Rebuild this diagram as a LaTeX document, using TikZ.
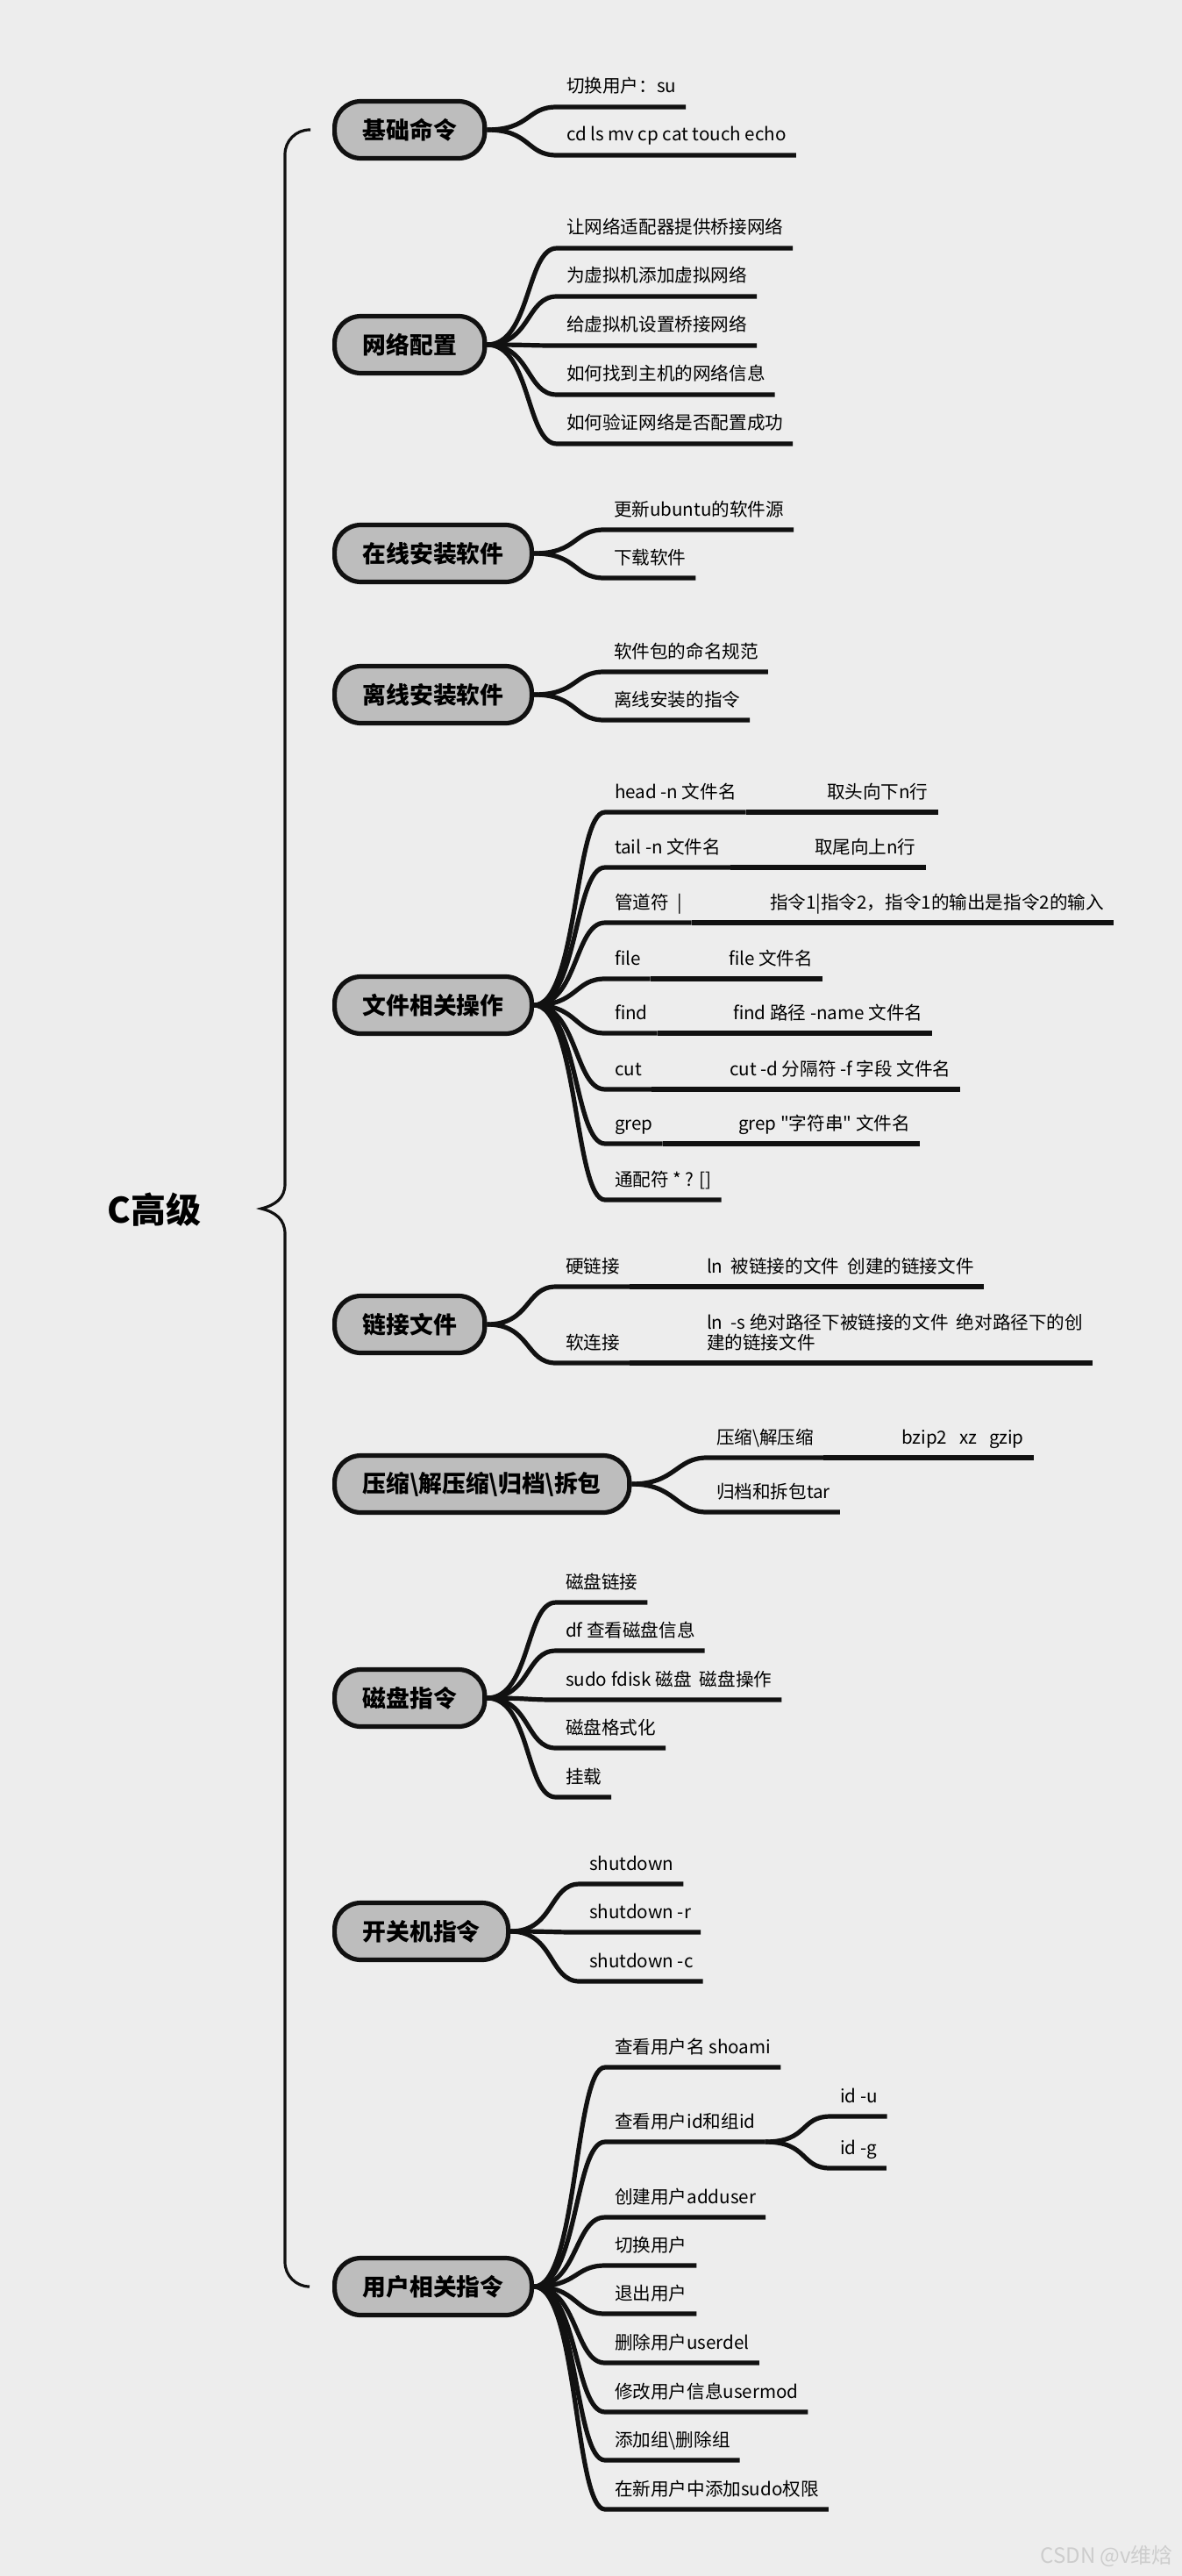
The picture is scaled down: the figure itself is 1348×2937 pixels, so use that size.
\documentclass[tikz,border=0pt]{standalone}
\usepackage{fontspec}
\setmainfont{Noto Sans CJK SC}
\usetikzlibrary{calc}
\definecolor{paper}{HTML}{EDEDED}
\definecolor{boxgray}{HTML}{BDBDBD}
\definecolor{inkblack}{HTML}{111111}
\definecolor{markgray}{HTML}{CDCDCD}
\newcommand{\leaffont}{\fontsize{10.3pt}{11.5pt}\selectfont}
\newcommand{\boxfont}{\fontsize{13.4pt}{15pt}\selectfont\bfseries}
\newcommand{\rootfont}{\fontsize{20pt}{23pt}\selectfont\bfseries}
\tikzset{
  topic/.style={draw=inkblack, line width=2.6pt, fill=boxgray, rounded corners=15pt,
    minimum height=32.5pt, inner xsep=16pt, inner ysep=0pt, anchor=west, font=\boxfont},
  leaf/.style={anchor=south west, inner xsep=5.5pt, inner ysep=6pt, outer sep=0pt,
    text depth=2pt, font=\leaffont, align=left},
  limb/.style={to path={.. controls +(50,0) and +(-35,0) .. (\tikztotarget)}},
  twig/.style={draw=inkblack, line width=2.6pt, line join=round},
  trunk/.style={draw=inkblack, line width=1.6pt},
}

\begin{document}
\begin{tikzpicture}[x=0.5pt,y=-0.5pt]
    % fondo
    \fill[paper] (0,0) rectangle (1348,2937);
    \useasboundingbox (0,0) rectangle (1348,2937);

    % radice e graffa
    \node[font=\rootfont] (root) at (176,1379) {C高级};
    \coordinate (tip) at (298,1378);

    % rami principali
    \node[topic] (g1) at (379,148) {基础命令};
    \node[topic] (g2) at (379,393) {网络配置};
    \node[topic] (g3) at (379,631) {在线安装软件};
    \node[topic] (g4) at (379,792) {离线安装软件};
    \node[topic] (g5) at (379,1146) {文件相关操作};
    \node[topic] (g6) at (379,1510) {链接文件};
    \node[topic] (g7) at (379,1692) {压缩\textbackslash{}解压缩\textbackslash{}归档\textbackslash{}拆包};
    \node[topic] (g8) at (379,1936) {磁盘指令};
    \node[topic] (g9) at (379,2202) {开关机指令};
    \node[topic] (g10) at (379,2607) {用户相关指令};

    \draw[trunk, rounded corners=14pt] ($(g1.west)+(-25,0)$) -| (325,1350);
    \draw[trunk] (325,1350)
        .. controls (325,1366) and (314,1374) .. (tip)
        .. controls (314,1382) and (325,1390) .. (325,1407);
    \draw[trunk, rounded corners=14pt] (325,1407) |- ($(g10.west)+(-26,0)$);

    % foglie: base
    \node[leaf] (b1) at (635,122) {切换用户：su};
    \node[leaf] (b2) at (635,177) {cd ls mv cp cat touch echo};

    % foglie: rete
    \node[leaf] (n1) at (635,283) {让网络适配器提供桥接网络};
    \node[leaf] (n2) at (635,338) {为虚拟机添加虚拟网络};
    \node[leaf] (n3) at (635,394) {给虚拟机设置桥接网络};
    \node[leaf] (n4) at (635,450) {如何找到主机的网络信息};
    \node[leaf] (n5) at (635,506) {如何验证网络是否配置成功};

    % foglie: installazione
    \node[leaf] (on1) at (689,604) {更新ubuntu的软件源};
    \node[leaf] (on2) at (689,659) {下载软件};
    \node[leaf] (off1) at (689,766) {软件包的命名规范};
    \node[leaf] (off2) at (689,821) {离线安装的指令};

    % foglie: file
    \node[leaf] (f1) at (690,926) {head -n 文件名};
    \node[leaf] (f2) at (690,989) {tail -n 文件名};
    \node[leaf] (f3) at (690,1052) {管道符~~|};
    \node[leaf] (f4) at (690,1116) {file};
    \node[leaf] (f5) at (690,1178) {find};
    \node[leaf] (f6) at (690,1242) {cut};
    \node[leaf] (f7) at (690,1304) {grep};
    \node[leaf] (f8) at (690,1368) {通配符 * ? []};
    \node[leaf] (fc1) at (932,926) {取头向下n行};
    \node[leaf] (fc2) at (918,989) {取尾向上n行};
    \node[leaf] (fc3) at (867,1052) {指令1|指令2，指令1的输出是指令2的输入};
    \node[leaf] (fc4) at (820,1116) {file 文件名};
    \node[leaf] (fc5) at (825,1178) {find 路径 -name 文件名};
    \node[leaf] (fc6) at (821,1242) {cut -d 分隔符 -f 字段 文件名};
    \node[leaf] (fc7) at (831,1304) {grep \textquotedbl{}字符串\textquotedbl{} 文件名};

    % foglie: link
    \node[leaf] (l1) at (634,1467) {硬链接};
    \node[leaf] (l2) at (634,1554) {软连接};
    \node[leaf] (lc1) at (795,1467) {ln~~被链接的文件~~创建的链接文件};
    \node[leaf] (lc2) at (795,1554) {ln~~-s 绝对路径下被链接的文件~~绝对路径下的创\\建的链接文件};

    % foglie: compressione
    \node[leaf] (z1) at (806,1662) {压缩\textbackslash{}解压缩};
    \node[leaf] (z2) at (806,1724) {归档和拆包tar};
    \node[leaf] (zc1) at (1017,1662) {bzip2~~~xz~~~gzip};

    % foglie: disco
    \node[leaf] (d1) at (634,1827) {磁盘链接};
    \node[leaf] (d2) at (634,1882) {df 查看磁盘信息};
    \node[leaf] (d3) at (634,1938) {sudo fdisk 磁盘~~磁盘操作};
    \node[leaf] (d4) at (634,1993) {磁盘格式化};
    \node[leaf] (d5) at (634,2049) {挂载};

    % foglie: spegnimento
    \node[leaf] (s1) at (661,2148) {shutdown};
    \node[leaf] (s2) at (661,2203) {shutdown -r};
    \node[leaf] (s3) at (661,2259) {shutdown -c};

    % foglie: utenti
    \node[leaf] (u1) at (690,2357) {查看用户名 shoami};
    \node[leaf] (u2) at (690,2442) {查看用户id和组id};
    \node[leaf] (u3) at (690,2528) {创建用户adduser};
    \node[leaf] (u4) at (690,2583) {切换用户};
    \node[leaf] (u5) at (690,2638) {退出用户};
    \node[leaf] (u6) at (690,2694) {删除用户userdel};
    \node[leaf] (u7) at (690,2750) {修改用户信息usermod};
    \node[leaf] (u8) at (690,2805) {添加组\textbackslash{}删除组};
    \node[leaf] (u9) at (690,2861) {在新用户中添加sudo权限};
    \node[leaf] (uc1) at (947,2413) {id -u};
    \node[leaf] (uc2) at (947,2472) {id -g};

    % collegamenti
    \foreach \n in {b1,b2}
        \draw[twig] (g1.east) to[limb] (\n.south west) -- (\n.south east);
    \foreach \n in {n1,n2,n3,n4,n5}
        \draw[twig] (g2.east) to[limb] (\n.south west) -- (\n.south east);
    \foreach \n in {on1,on2}
        \draw[twig] (g3.east) to[limb] (\n.south west) -- (\n.south east);
    \foreach \n in {off1,off2}
        \draw[twig] (g4.east) to[limb] (\n.south west) -- (\n.south east);
    \foreach \n in {f1,f2,f3,f4,f5,f6,f7,f8}
        \draw[twig] (g5.east) to[limb] (\n.south west) -- (\n.south east);
    \foreach \p/\c in {f1/fc1,f2/fc2,f3/fc3,f4/fc4,f5/fc5,f6/fc6,f7/fc7,l1/lc1,l2/lc2,z1/zc1}
        \draw[twig] (\p.south east) -- (\c.south west) -- (\c.south east);
    \foreach \n in {l1,l2}
        \draw[twig] (g6.east) to[limb] (\n.south west) -- (\n.south east);
    \foreach \n in {z1,z2}
        \draw[twig] (g7.east) to[limb] (\n.south west) -- (\n.south east);
    \foreach \n in {d1,d2,d3,d4,d5}
        \draw[twig] (g8.east) to[limb] (\n.south west) -- (\n.south east);
    \foreach \n in {s1,s2,s3}
        \draw[twig] (g9.east) to[limb] (\n.south west) -- (\n.south east);
    \foreach \n in {u1,u2,u3,u4,u5,u6,u7,u8,u9}
        \draw[twig] (g10.east) to[limb] (\n.south west) -- (\n.south east);
    \foreach \n in {uc1,uc2}
        \draw[twig] (u2.south east) to[limb] (\n.south west) -- (\n.south east);

    % filigrana
    \node[anchor=east, text=markgray, font=\fontsize{12pt}{14pt}\selectfont] (mark) at (1345,2914) {CSDN @v维焓};
\end{tikzpicture}
\end{document}
